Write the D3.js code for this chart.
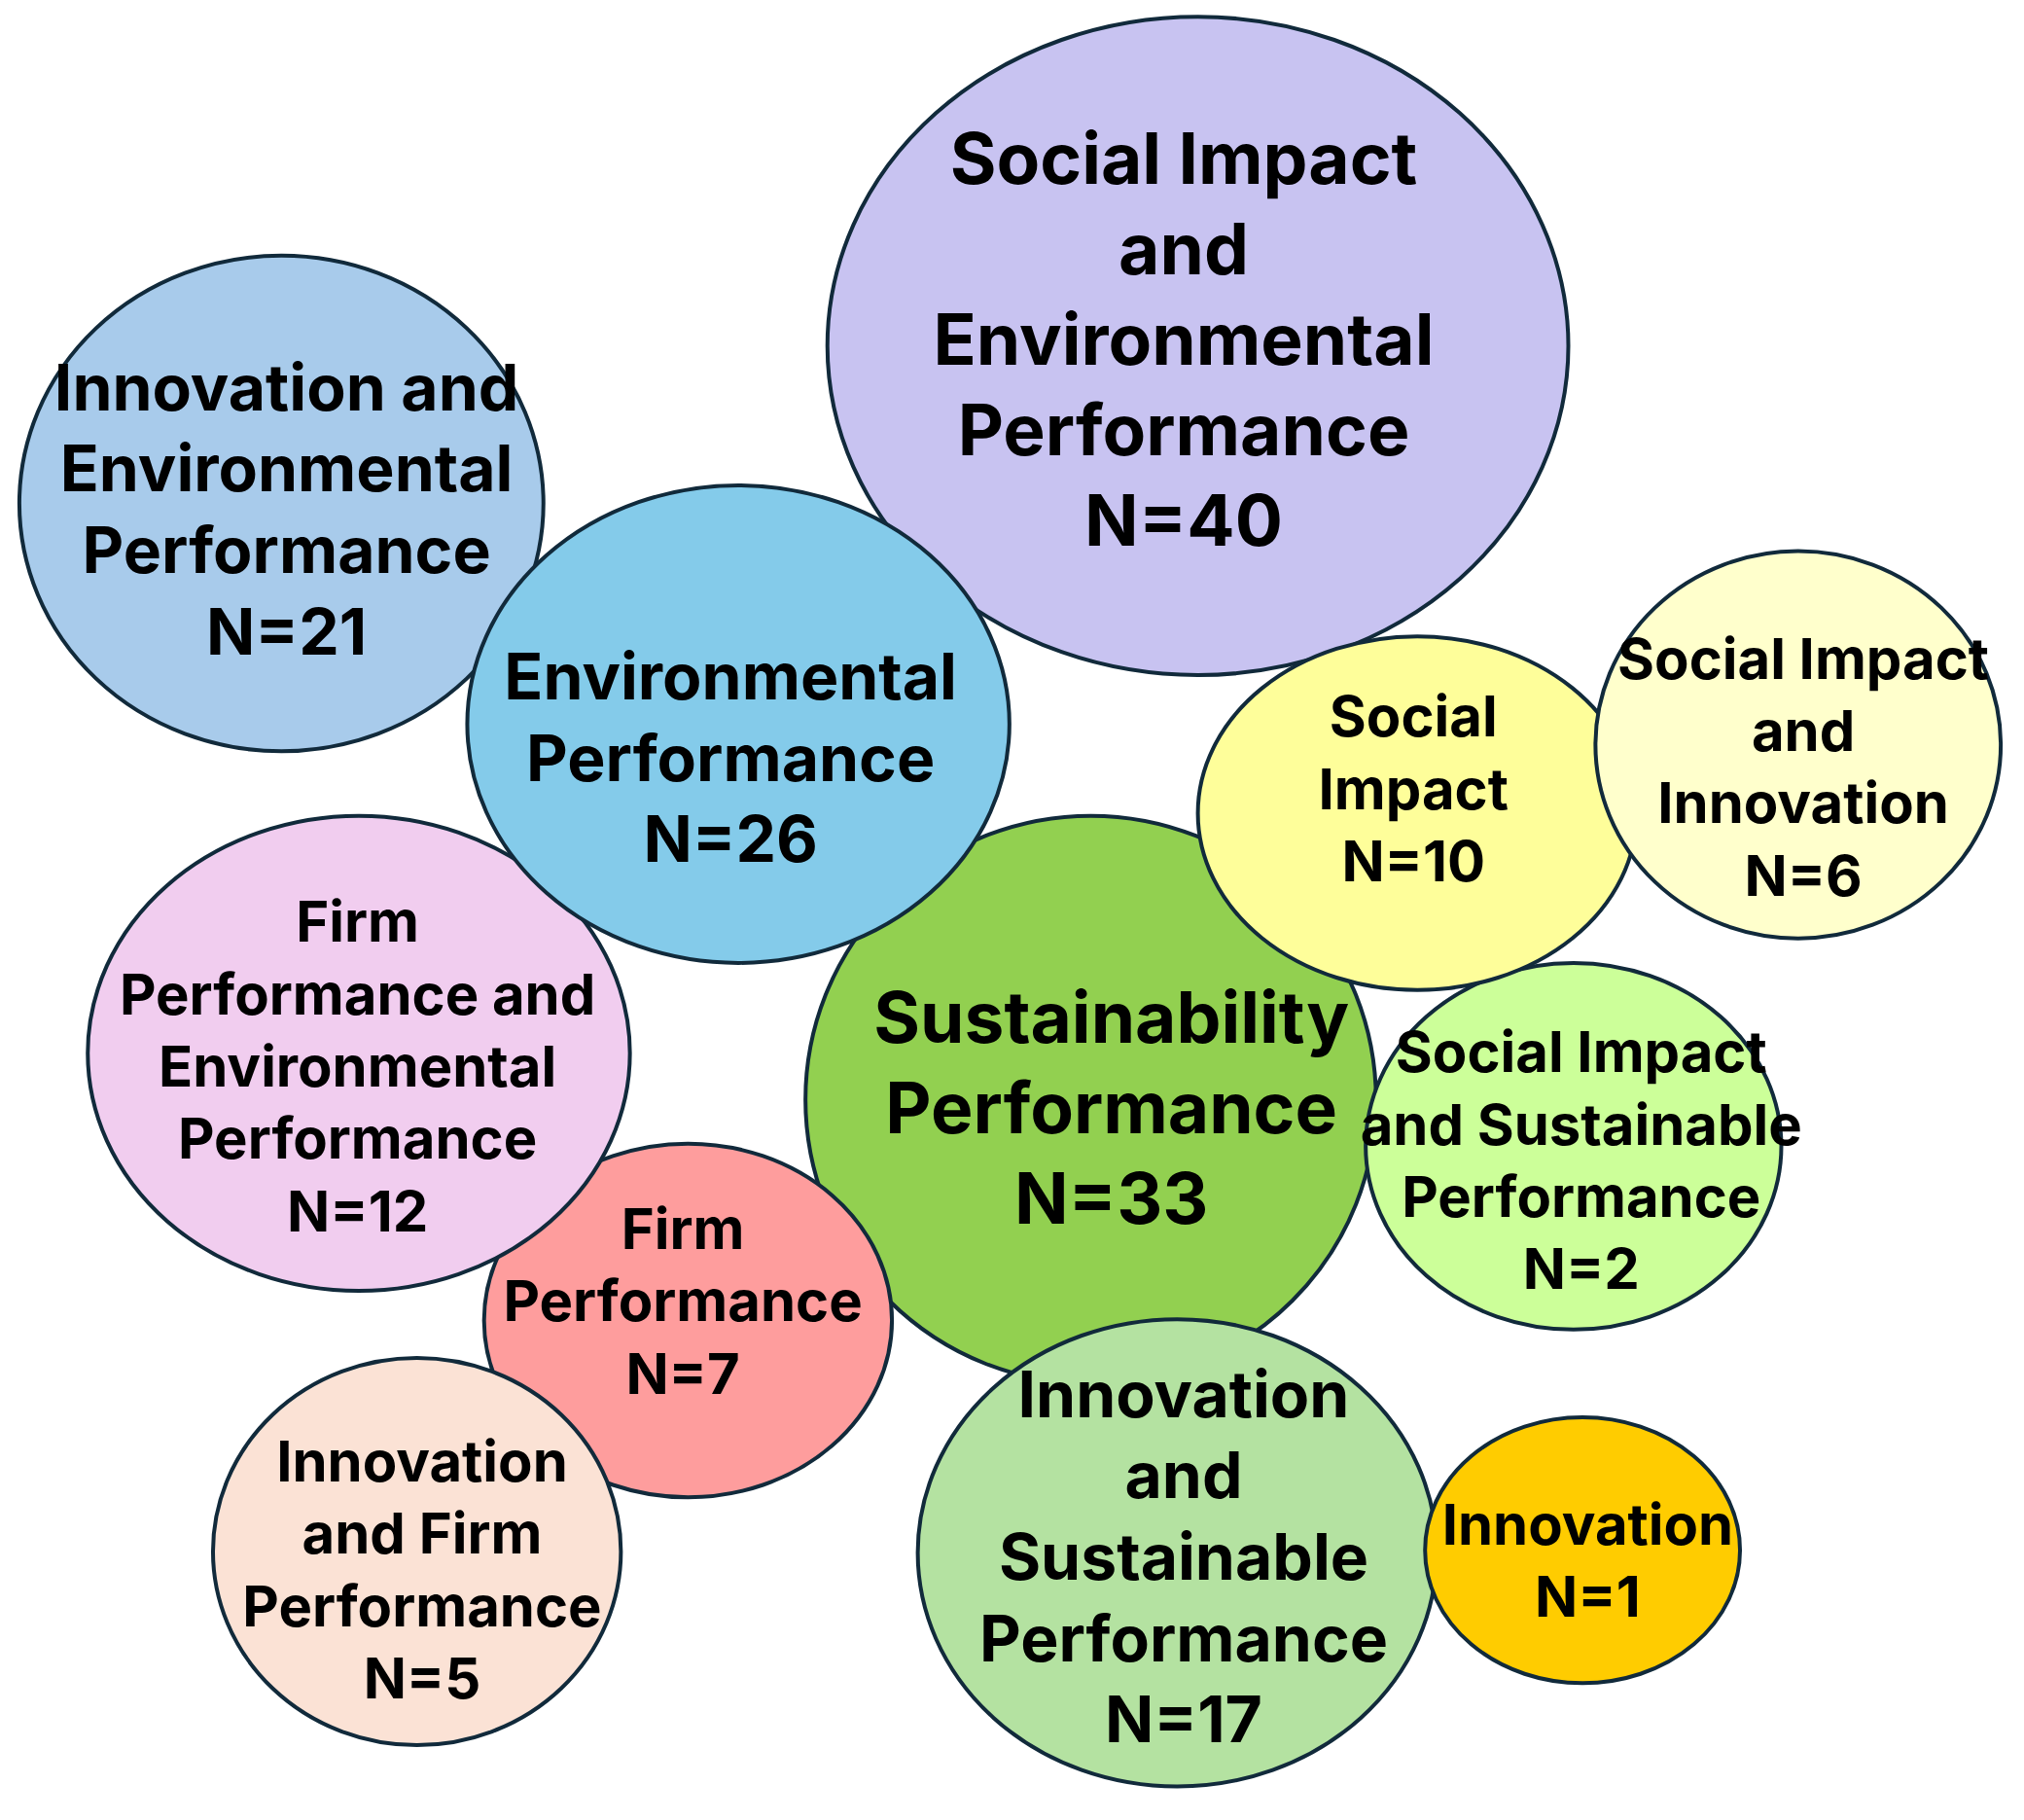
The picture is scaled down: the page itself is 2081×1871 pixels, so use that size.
<!DOCTYPE html>
<html lang="en">
  <head>
    <meta charset="UTF-8" />
    <title>Bubble chart</title>
    <script src="https://cdn.jsdelivr.net/npm/d3@7"></script>
    <style>
      body {
        margin: 0;
        padding: 0;
        background: #fff;
      }
      svg {
        display: block;
      }
      .label {
        font-family: Inter, "Open Sans", sans-serif;
        font-weight: 700;
        fill: #000;
      }
    </style>
  </head>
  <body>
    <div id="chart"></div>
    <script>
      // categories (label lines) and counts
      const labels = [
        ["Social Impact", "and", "Environmental", "Performance"],
        ["Innovation and", "Environmental", "Performance"],
        ["Sustainability", "Performance"],
        ["Firm", "Performance"],
        ["Firm", "Performance and", "Environmental", "Performance"],
        ["Environmental", "Performance"],
        ["Innovation", "and Firm", "Performance"],
        ["Social Impact", "and Sustainable", "Performance"],
        ["Social", "Impact"],
        ["Social Impact", "and", "Innovation"],
        ["Innovation", "and", "Sustainable", "Performance"],
        ["Innovation"],
      ];
      const counts = [40, 21, 33, 7, 12, 26, 5, 2, 10, 6, 17, 1];
      const colors = [
        "#c8c3f1", "#a8cbeb", "#92d050", "#fe9d9d", "#f1cdef", "#84cbea",
        "#fbe2d5", "#ccff99", "#fefe9a", "#ffffcc", "#b4e2a1", "#ffcc00",
      ];

      // layout, in the units of a 1568 x 1410 sketch (drawn in order)
      const centerX = [928, 218, 845, 533, 278, 572, 323, 1219, 1098, 1393, 912, 1226];
      const centerY = [268, 390, 852, 1023, 816, 561, 1202, 888, 630, 577, 1203, 1201];
      const radiusX = [287, 203, 221, 158, 210, 210, 158, 161, 170, 157, 201, 122];
      const radiusY = [255, 192, 220, 137, 184, 185, 150, 142, 137, 150, 181, 103];
      const textX = [917, 222, 861, 529, 277, 566, 327, 1225, 1095, 1397, 917, 1230];
      const textTop = [123, 300, 788, 952, 714, 524, 1132, 815, 555, 510, 1080, 1181];
      const tier = [2, 1, 2, 0, 0, 1, 0, 0, 0, 0, 1, 0];

      const width = 2081;
      const height = 1871;
      const fontSize = [58, 66, 73];
      const lineStep = [56, 63, 70];

      const x = d3.scaleLinear().domain([0, 1568]).range([0, width]);
      const y = d3.scaleLinear().domain([0, 1410]).range([0, height]);

      const bubbles = counts.map((n, i) => ({
        lines: labels[i].concat(["N=" + n]),
        color: colors[i],
        cx: centerX[i],
        cy: centerY[i],
        rx: radiusX[i],
        ry: radiusY[i],
        tx: textX[i],
        ty: textTop[i],
        tier: tier[i],
      }));

      const svg = d3
        .select("#chart")
        .append("svg")
        .attr("width", width)
        .attr("height", height);

      svg
        .selectAll("ellipse")
        .data(bubbles)
        .enter()
        .append("ellipse")
        .attr("cx", (d) => x(d.cx))
        .attr("cy", (d) => y(d.cy))
        .attr("rx", (d) => x(d.rx))
        .attr("ry", (d) => y(d.ry))
        .attr("fill", (d) => d.color)
        .attr("stroke", "#112a3b")
        .attr("stroke-width", 4);

      // labels go on top of every bubble
      const t = svg
        .selectAll("text.label")
        .data(bubbles)
        .enter()
        .append("text")
        .attr("class", "label")
        .attr("text-anchor", "middle")
        .style("font-size", (d) => fontSize[d.tier] + "px");

      t.selectAll("tspan")
        .data((d) => d.lines.map((s, k) => ({ s, k, d })))
        .enter()
        .append("tspan")
        .attr("x", (e) => x(e.d.tx))
        .attr("y", (e) => y(e.d.ty + e.k * lineStep[e.d.tier]))
        .attr("dy", "0.36em")
        .text((e) => e.s);
    </script>
  </body>
</html>
